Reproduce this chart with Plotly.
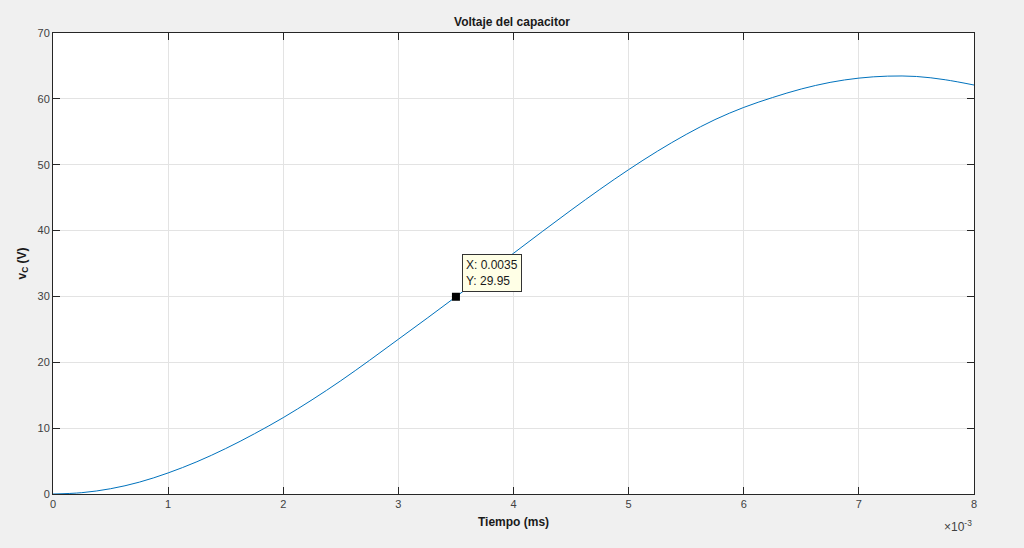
import plotly.graph_objects as go

# tiempo en segundos, voltaje en V
tiempo = [0.0, 0.00025, 0.0005, 0.00075, 0.001, 0.00125, 0.0015, 0.00175, 0.002,
          0.00225, 0.0025, 0.00275, 0.003, 0.00325, 0.0035, 0.00375, 0.004,
          0.00425, 0.0045, 0.00475, 0.005, 0.00525, 0.0055, 0.00575, 0.006,
          0.00625, 0.0065, 0.00675, 0.007, 0.00725, 0.0075, 0.00775, 0.008]
voltaje = [0.0, 0.2, 0.8, 1.8, 3.2, 4.9, 6.9, 9.15, 11.6,
           14.3, 17.2, 20.3, 23.5, 26.7, 29.95, 33.25, 36.55,
           39.85, 43.1, 46.25, 49.25, 52.05, 54.6, 56.85, 58.7,
           60.2, 61.5, 62.5, 63.15, 63.45, 63.4, 62.9, 62.1]

x_ticks = [0, 0.001, 0.002, 0.003, 0.004, 0.005, 0.006, 0.007, 0.008]
x_labels = ["0", "1", "2", "3", "4", "5", "6", "7", "8"]
y_ticks = [0, 10, 20, 30, 40, 50, 60, 70]

punto_x = 0.0035
punto_y = 29.95

fig = go.Figure()
fig.add_trace(go.Scatter(
    x=tiempo, y=voltaje, mode="lines", line_shape="spline",
    line=dict(color="#0072BD", width=1), hoverinfo="skip"
))
fig.add_trace(go.Scatter(
    x=[punto_x], y=[punto_y], mode="markers",
    marker=dict(symbol="square", size=8, color="black"), hoverinfo="skip"
))

eje = dict(
    showline=True, linecolor="#262626", linewidth=1, mirror="ticks",
    ticks="inside", ticklen=7, tickcolor="#262626",
    showgrid=True, gridcolor="#e3e3e3", gridwidth=1,
    zeroline=False, tickfont=dict(size=11, color="#404040"),
)

fig.update_layout(
    width=1024, height=548,
    margin=dict(l=53, r=50, t=33, b=54),
    paper_bgcolor="#f0f0f0", plot_bgcolor="white",
    font=dict(family="Liberation Sans, Arial, sans-serif"),
    showlegend=False,
    title=dict(text="<b>Voltaje del capacitor</b>", x=0.5, xanchor="center",
               y=0.96, yanchor="middle", font=dict(size=12, color="#1a1a1a")),
)
fig.update_xaxes(eje, range=[0, 0.008], tickvals=x_ticks, ticktext=x_labels,
                 title=dict(text="<b>Tiempo (ms)</b>", standoff=8,
                            font=dict(size=12, color="#1a1a1a")))
fig.update_yaxes(eje, range=[0, 70], tickvals=y_ticks,
                 title=dict(text="<b>v<sub>C</sub> (V)</b>", standoff=8,
                            font=dict(size=12, color="#1a1a1a")))

fig.add_annotation(
    x=punto_x, y=punto_y, xref="x", yref="y",
    text="X: 0.0035<br>Y: 29.95", showarrow=False, align="left",
    xanchor="left", yanchor="bottom", xshift=6, yshift=5,
    bgcolor="#ffffe6", bordercolor="#333333", borderwidth=1, borderpad=3,
    font=dict(size=12, color="#1a1a1a")
)
fig.add_annotation(
    x=1, y=0, xref="paper", yref="paper", xanchor="right", yanchor="top",
    yshift=-22, showarrow=False, text="×10<sup>-3</sup>",
    font=dict(size=12, color="#404040")
)

fig.write_html("out.html", config={"displayModeBar": False},
               post_script="document.body.style.margin='0';")
